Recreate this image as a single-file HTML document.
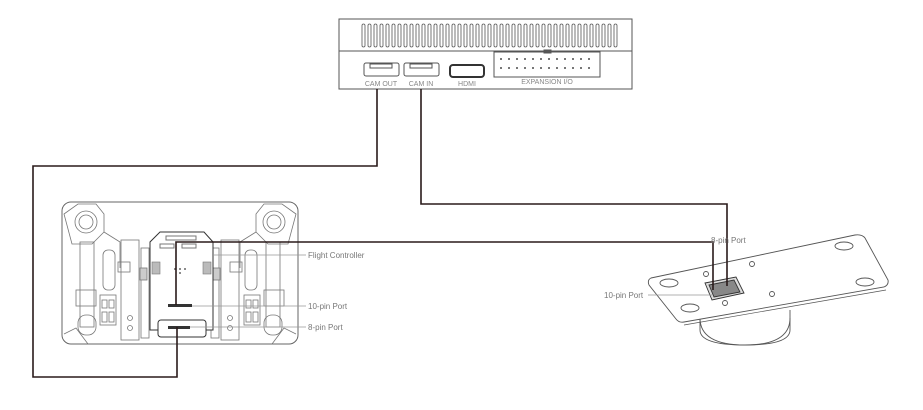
<!DOCTYPE html>
<html><head><meta charset="utf-8"><style>
html,body{margin:0;padding:0;background:#fff;}
svg{display:block;font-family:"Liberation Sans",sans-serif;}
</style></head><body>
<svg width="923" height="410" viewBox="0 0 923 410" xmlns="http://www.w3.org/2000/svg">
<defs>
<g id="half" fill="none" stroke="#777" stroke-width="0.8">
  <!-- corner mount -->
  <path d="M64 214 L78 204 L96 204 L104 214 L104 232 L92 244 L72 244 Z"/>
  <circle cx="86" cy="222" r="11"/><circle cx="86" cy="222" r="7"/>
  <path d="M104 232 L120 242 L120 268"/>
  <rect x="80" y="242" width="14" height="85"/>
  <rect x="76" y="290" width="20" height="16"/>
  <rect x="78" y="315" width="18" height="20" rx="8"/>
  <rect x="103" y="250" width="12" height="40" rx="5"/>
  <rect x="121" y="240" width="18" height="100"/>
  <rect x="118" y="262" width="12" height="10"/>
  <rect x="100" y="295" width="16" height="30"/>
  <rect x="102" y="300" width="5" height="8"/><rect x="109" y="300" width="5" height="8"/>
  <rect x="102" y="312" width="5" height="10"/><rect x="109" y="312" width="5" height="10"/>
  <circle cx="130" cy="318" r="2.5"/><circle cx="130" cy="328" r="2.5"/>
  <path d="M64 334 L76 328 L88 344"/>
  <rect x="141" y="248" width="8" height="90"/>
  <rect x="140" y="268" width="7" height="12" fill="#ccc"/>
</g>
</defs>

<!-- top controller box -->
<g fill="none" stroke="#555" stroke-width="1">
  <rect x="339" y="19" width="293" height="70" fill="#fff"/>
  <line x1="339" y1="51" x2="632" y2="51"/>
  <rect x="364" y="63" width="35" height="13" rx="2"/>
  <rect x="370" y="64" width="22" height="4"/>
  <rect x="404" y="63" width="35" height="13" rx="2"/>
  <rect x="410" y="64" width="22" height="4"/>
  <rect x="450" y="65" width="34" height="12" rx="3" stroke-width="2" stroke="#333"/>
  <rect x="494" y="52" width="106" height="25"/>
  <rect x="544" y="50" width="7" height="3"/>
</g>
<g stroke="#666" stroke-width="0.8" fill="none" id="vents"></g>
<g fill="#888" font-size="7" text-anchor="middle">
  <text x="381" y="86">CAM OUT</text>
  <text x="421" y="86">CAM IN</text>
  <text x="467" y="86">HDMI</text>
  <text x="547" y="84">EXPANSION I/O</text>
</g>
<g stroke="#555" stroke-width="0.8" fill="none">
  <!-- vents generated -->
  <rect x="362" y="24" width="3" height="23" rx="1.5"/><rect x="368" y="24" width="3" height="23" rx="1.5"/>
  <rect x="374" y="24" width="3" height="23" rx="1.5"/><rect x="380" y="24" width="3" height="23" rx="1.5"/>
  <rect x="386" y="24" width="3" height="23" rx="1.5"/><rect x="392" y="24" width="3" height="23" rx="1.5"/>
  <rect x="398" y="24" width="3" height="23" rx="1.5"/><rect x="404" y="24" width="3" height="23" rx="1.5"/>
  <rect x="410" y="24" width="3" height="23" rx="1.5"/><rect x="416" y="24" width="3" height="23" rx="1.5"/>
  <rect x="422" y="24" width="3" height="23" rx="1.5"/><rect x="428" y="24" width="3" height="23" rx="1.5"/>
  <rect x="434" y="24" width="3" height="23" rx="1.5"/><rect x="440" y="24" width="3" height="23" rx="1.5"/>
  <rect x="446" y="24" width="3" height="23" rx="1.5"/><rect x="452" y="24" width="3" height="23" rx="1.5"/>
  <rect x="458" y="24" width="3" height="23" rx="1.5"/><rect x="464" y="24" width="3" height="23" rx="1.5"/>
  <rect x="470" y="24" width="3" height="23" rx="1.5"/><rect x="476" y="24" width="3" height="23" rx="1.5"/>
  <rect x="482" y="24" width="3" height="23" rx="1.5"/><rect x="488" y="24" width="3" height="23" rx="1.5"/>
  <rect x="494" y="24" width="3" height="23" rx="1.5"/><rect x="500" y="24" width="3" height="23" rx="1.5"/>
  <rect x="506" y="24" width="3" height="23" rx="1.5"/><rect x="512" y="24" width="3" height="23" rx="1.5"/>
  <rect x="518" y="24" width="3" height="23" rx="1.5"/><rect x="524" y="24" width="3" height="23" rx="1.5"/>
  <rect x="530" y="24" width="3" height="23" rx="1.5"/><rect x="536" y="24" width="3" height="23" rx="1.5"/>
  <rect x="542" y="24" width="3" height="23" rx="1.5"/><rect x="548" y="24" width="3" height="23" rx="1.5"/>
  <rect x="554" y="24" width="3" height="23" rx="1.5"/><rect x="560" y="24" width="3" height="23" rx="1.5"/>
  <rect x="566" y="24" width="3" height="23" rx="1.5"/><rect x="572" y="24" width="3" height="23" rx="1.5"/>
  <rect x="578" y="24" width="3" height="23" rx="1.5"/><rect x="584" y="24" width="3" height="23" rx="1.5"/>
  <rect x="590" y="24" width="3" height="23" rx="1.5"/><rect x="596" y="24" width="3" height="23" rx="1.5"/>
  <rect x="602" y="24" width="3" height="23" rx="1.5"/><rect x="608" y="24" width="3" height="23" rx="1.5"/>
  <rect x="614" y="24" width="3" height="23" rx="1.5"/>
</g>
<g fill="#777">
  <rect x="500" y="58" width="2" height="2"/><rect x="508" y="58" width="2" height="2"/><rect x="516" y="58" width="2" height="2"/><rect x="524" y="58" width="2" height="2"/><rect x="532" y="58" width="2" height="2"/><rect x="540" y="58" width="2" height="2"/><rect x="548" y="58" width="2" height="2"/><rect x="556" y="58" width="2" height="2"/><rect x="564" y="58" width="2" height="2"/><rect x="572" y="58" width="2" height="2"/><rect x="580" y="58" width="2" height="2"/><rect x="588" y="58" width="2" height="2"/>
  <rect x="500" y="67" width="2" height="2"/><rect x="508" y="67" width="2" height="2"/><rect x="516" y="67" width="2" height="2"/><rect x="524" y="67" width="2" height="2"/><rect x="532" y="67" width="2" height="2"/><rect x="540" y="67" width="2" height="2"/><rect x="548" y="67" width="2" height="2"/><rect x="556" y="67" width="2" height="2"/><rect x="564" y="67" width="2" height="2"/><rect x="572" y="67" width="2" height="2"/><rect x="580" y="67" width="2" height="2"/><rect x="588" y="67" width="2" height="2"/>
</g>

<!-- left frame -->
<rect x="62" y="202" width="236" height="142" rx="9" fill="#fff" stroke="#666" stroke-width="1"/>
<use href="#half"/>
<use href="#half" transform="translate(360,0) scale(-1,1)"/>
<!-- flight controller -->
<g fill="none" stroke="#333" stroke-width="1">
  <path d="M160 232 L204 232 L213 242 L213 330 L150 330 L150 242 Z" fill="#fff"/>
  <rect x="158" y="320" width="48" height="17" rx="3" fill="#fff"/>
  <rect x="166" y="236" width="30" height="4" stroke="#777"/>
  <rect x="160" y="244" width="14" height="4" stroke="#777"/><rect x="182" y="244" width="14" height="4" stroke="#777"/>
</g>
<rect x="152" y="262" width="8" height="12" fill="#bbb" stroke="#777" stroke-width="0.6"/>
<rect x="203" y="262" width="8" height="12" fill="#bbb" stroke="#777" stroke-width="0.6"/>
<g fill="#666"><circle cx="175" cy="269" r="1"/><circle cx="180" cy="269" r="1"/><circle cx="185" cy="269" r="1"/><circle cx="180" cy="273" r="1"/></g>
<rect x="168" y="304" width="24" height="3" fill="#333"/>
<rect x="168" y="326" width="22" height="3" fill="#333"/>

<!-- plate -->
<g fill="none" stroke="#555" stroke-width="0.9">
  <path d="M700 318 Q700 345 745 345 Q790 345 790 318" fill="#fff"/>
  <path d="M700 318 L700 330 Q700 345 745 345 Q790 345 790 330 L790 310"/>
  <path d="M651 278 L855 235 Q862 234 865 238 L888 280 Q889 285 884 287 L684 322 Q679 323 676 319 L649 285 Q647 280 651 278 Z" fill="#fff"/>
  <path d="M684 325 L886 290" stroke-width="0.7"/>
  <ellipse cx="669" cy="283" rx="9" ry="4"/>
  <ellipse cx="690" cy="308" rx="9" ry="4"/>
  <ellipse cx="844" cy="246" rx="9" ry="4"/>
  <ellipse cx="865" cy="282" rx="9" ry="4"/>
  <circle cx="706" cy="274" r="2.5"/><circle cx="752" cy="264" r="2.5"/>
  <circle cx="772" cy="294" r="2.5"/><circle cx="725" cy="303" r="2.5"/>
  <path d="M705 283 L736 277 L744 293 L712 300 Z" fill="#ddd" stroke="#333"/>
  <path d="M709 285 L734 280 L740 292 L714 297 Z" fill="#888" stroke="#333"/>
</g>

<!-- connector wires -->
<g fill="none" stroke="#2a1a1a" stroke-width="1.6">
  <polyline points="377,89 377,166 33,166 33,377 177,377 177,327"/>
  <polyline points="421,89 421,204 727,204 727,286"/>
  <polyline points="176,305 176,242 713,242 713,290"/>
</g>

<!-- leader lines -->
<g stroke="#999" stroke-width="0.8">
  <line x1="213" y1="255" x2="306" y2="255"/>
  <line x1="192" y1="306" x2="306" y2="306"/>
  <line x1="190" y1="327" x2="306" y2="327"/>
  <line x1="648" y1="295" x2="712" y2="295"/>
</g>
<g fill="#777" font-size="8">
  <text x="308" y="258">Flight Controller</text>
  <text x="308" y="309">10-pin Port</text>
  <text x="308" y="330">8-pin Port</text>
  <text x="711" y="243">8-pin Port</text>
  <text x="604" y="298">10-pin Port</text>
</g>
</svg>
</body></html>
